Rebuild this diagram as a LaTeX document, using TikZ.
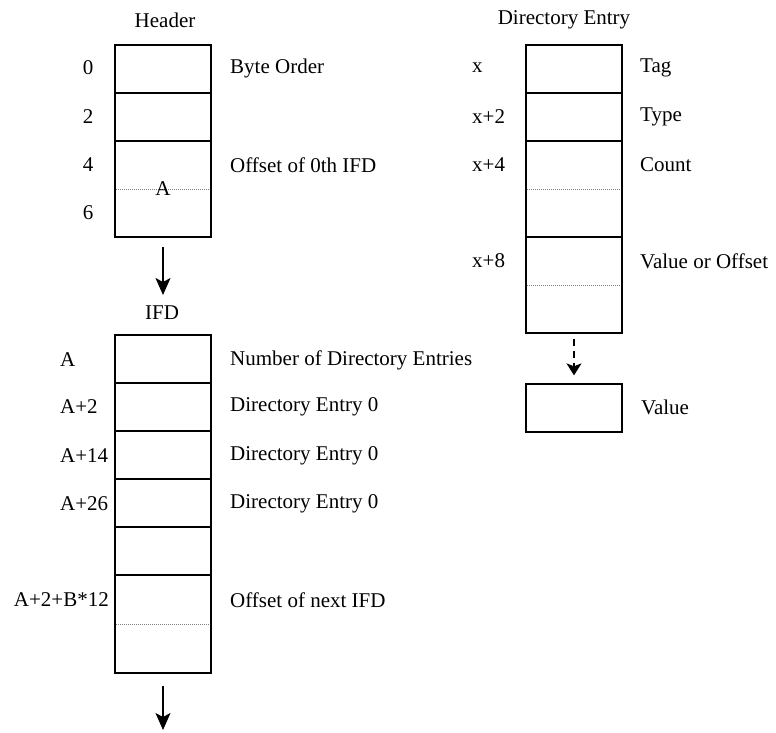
\documentclass[tikz,border=0pt]{standalone}
\usepackage{fontspec}
\setmainfont{Liberation Serif}
\usetikzlibrary{arrows.meta}
\begin{document}
\begin{tikzpicture}[x=1pt,y=-1pt,
  font=\fontsize{21}{25}\selectfont,
  cell/.style={draw, line width=1.3pt, minimum width=96pt, minimum height=48pt, inner sep=0pt},
  tallcell/.style={cell, minimum height=96pt},
  lab/.style={inner sep=0pt, anchor=west},
  sep/.style={gray, line width=0.9pt, dash pattern=on 1pt off 1pt},
  arr/.style={line width=1.3pt, -{Stealth[length=17pt,width=15pt,inset=4pt]}},
  darr/.style={line width=1.3pt, dash pattern=on 7pt off 5pt, -{Stealth[length=12pt,width=15pt,inset=3pt]}}]
\useasboundingbox (0,0) rectangle (776,732);

% ---------- Header ----------
\node[inner sep=0pt] (htitle) at (165,20) {Header};
\node[cell] (h0) at (163,69) {};
\node[cell] (h2) at (163,117) {};
\node[tallcell] (h4) at (163,189) {};
\draw[sep] ([xshift=2pt]h4.west) -- ([xshift=-2pt]h4.east);
\node[inner sep=0pt] (hA) at (163,189) {A};
\node[inner sep=0pt] (l0) at (88,68) {0};
\node[inner sep=0pt] (l2) at (88,117) {2};
\node[inner sep=0pt] (l4) at (88,165) {4};
\node[inner sep=0pt] (l6) at (88,213) {6};
\node[lab] (rbo) at (230,68) {Byte Order};
\node[lab] (roff) at (230,165) {Offset of 0th IFD};

% ---------- IFD ----------
\node[inner sep=0pt] (ititle) at (162,313) {IFD};
\node[cell] (i0) at (163,359) {};
\node[cell] (i1) at (163,407) {};
\node[cell] (i2) at (163,455) {};
\node[cell] (i3) at (163,503) {};
\node[cell] (i4) at (163,551) {};
\node[tallcell, minimum height=98pt] (i5) at (163,624) {};
\draw[sep] ([xshift=2pt]i5.west) -- ([xshift=-2pt]i5.east);
\node[lab] (liA) at (60,360) {A};
\node[lab] (liA2) at (60,407) {A+2};
\node[lab] (liA14) at (60,456) {A+14};
\node[lab] (liA26) at (60,504) {A+26};
\node[inner sep=0pt, anchor=east] (liAB) at (109,600) {A+2+B*12};
\node[lab] (ri0) at (230,360) {Number of Directory Entries};
\node[lab] (ri1) at (230,407) {Directory Entry 0};
\node[lab] (ri2) at (230,456) {Directory Entry 0};
\node[lab] (ri3) at (230,504) {Directory Entry 0};
\node[lab] (ri5) at (230,600) {Offset of next IFD};

% ---------- Directory Entry ----------
\node[inner sep=0pt] (dtitle) at (564,20) {Directory Entry};
\node[cell] (d0) at (574,69) {};
\node[cell] (d2) at (574,117) {};
\node[tallcell] (d4) at (574,189) {};
\node[tallcell] (d8) at (574,285) {};
\draw[sep] ([xshift=2pt]d4.west) -- ([xshift=-2pt]d4.east);
\draw[sep] ([xshift=2pt]d8.west) -- ([xshift=-2pt]d8.east);
\node[lab] (ldx) at (472,68) {x};
\node[lab] (ldx2) at (472,117) {x+2};
\node[lab] (ldx4) at (472,165) {x+4};
\node[lab] (ldx8) at (472,261) {x+8};
\node[lab] (rtag) at (640,68) {Tag};
\node[lab] (rtype) at (640,117) {Type};
\node[lab] (rcount) at (640,165) {Count};
\node[lab] (rval) at (640,261) {Value or Offset};
\node[cell] (val) at (574,408) {};
\node[lab] (rvalue) at (641,407) {Value};

% ---------- connectors ----------
\coordinate (c1) at (163,295);
\coordinate (c2) at (163,730);
\draw[arr] ([yshift=-9pt]h4.south) -- (c1);
\draw[arr] ([yshift=-12pt]i5.south) -- (c2);
\draw[darr, shorten >=8pt] ([yshift=-5pt]d8.south) -- (val.north);
\end{tikzpicture}
\end{document}
